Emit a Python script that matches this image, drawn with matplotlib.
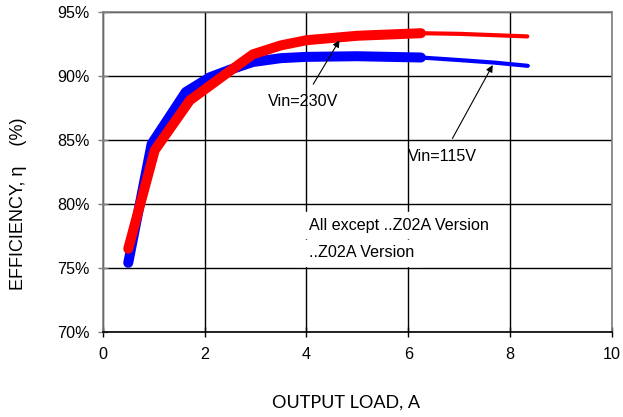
import matplotlib
matplotlib.use("Agg")
import matplotlib.pyplot as plt

# efficiency curves
load_115 = [0.5, 0.96, 1.63, 2.1, 2.5, 2.95, 3.5, 4.0, 5.0, 6.25]
eff_115 = [75.4, 84.7, 88.75, 89.9, 90.5, 91.1, 91.4, 91.5, 91.55, 91.45]
load_115_ext = [6.25, 7.0, 7.7, 8.35]
eff_115_ext = [91.45, 91.25, 91.05, 90.8]

load_230 = [0.5, 1.02, 1.71, 2.36, 2.95, 3.5, 4.0, 5.0, 6.25]
eff_230 = [76.5, 84.2, 88.1, 90.0, 91.7, 92.4, 92.8, 93.15, 93.35]
load_230_ext = [6.25, 7.0, 8.34]
eff_230_ext = [93.35, 93.3, 93.1]

xticks = [0, 2, 4, 6, 8, 10]
yticks = [70, 75, 80, 85, 90, 95]

plt.rcParams['font.family'] = ['Liberation Sans', 'DejaVu Sans']
fs = 11.6

fig = plt.figure(figsize=(6.23, 4.17), dpi=100)
ax = fig.add_axes([0.165, 0.204, 0.817, 0.767])

ax.plot(load_115_ext, eff_115_ext, color='#0000ff', lw=3, solid_capstyle='round', zorder=3)
ax.plot(load_115, eff_115, color='#0000ff', lw=7.2, solid_capstyle='round',
        solid_joinstyle='round', zorder=3)
ax.plot(load_230_ext, eff_230_ext, color='#ff0000', lw=3, solid_capstyle='round', zorder=4)
ax.plot(load_230, eff_230, color='#ff0000', lw=7.2, solid_capstyle='round',
        solid_joinstyle='round', zorder=4)

ax.set_xlim(0, 10)
ax.set_ylim(70, 95)
ax.set_xticks(xticks)
ax.set_yticks(yticks)
ax.set_yticklabels([f"{v}%" for v in yticks])
ax.grid(True, color='black', lw=1.0)
ax.set_axisbelow(True)
for s in ax.spines.values():
    s.set_color('#808080')
    s.set_linewidth(1.2)
ax.spines['bottom'].set_color('black')
ax.tick_params(direction='inout', length=7, width=1, colors='#808080',
               labelcolor='black', labelsize=fs)
ax.tick_params(axis='y', pad=6)
ax.tick_params(axis='x', colors='black', pad=7)

ax.annotate('Vin=230V', xy=(4.65, 92.8), xytext=(3.93, 88.0),
            ha='center', va='center', fontsize=fs,
            arrowprops=dict(arrowstyle='-|>', color='black', lw=0.8,
                            shrinkA=6, shrinkB=0, mutation_scale=10),
            zorder=5)
ax.annotate('Vin=115V', xy=(7.66, 90.86), xytext=(6.68, 83.75),
            ha='center', va='center', fontsize=fs,
            arrowprops=dict(arrowstyle='-|>', color='black', lw=0.8,
                            shrinkA=6, shrinkB=0, mutation_scale=10),
            zorder=5)

ax.text(4.05, 78.35, 'All except ..Z02A Version', fontsize=fs, va='center',
        ha='left', backgroundcolor='white', zorder=5)
ax.text(4.05, 76.2, '..Z02A Version', fontsize=fs, va='center',
        ha='left', backgroundcolor='white', zorder=5)

ax.set_ylabel('EFFICIENCY, \u03b7    (%)', fontsize=13)
ax.yaxis.set_label_coords(-0.148, 0.40)
ax.set_xlabel('OUTPUT LOAD, A', fontsize=13, fontfamily=['Lato', 'Open Sans', 'DejaVu Sans'])
ax.xaxis.set_label_coords(0.477, -0.197)

fig.savefig('out.png', dpi=100)
